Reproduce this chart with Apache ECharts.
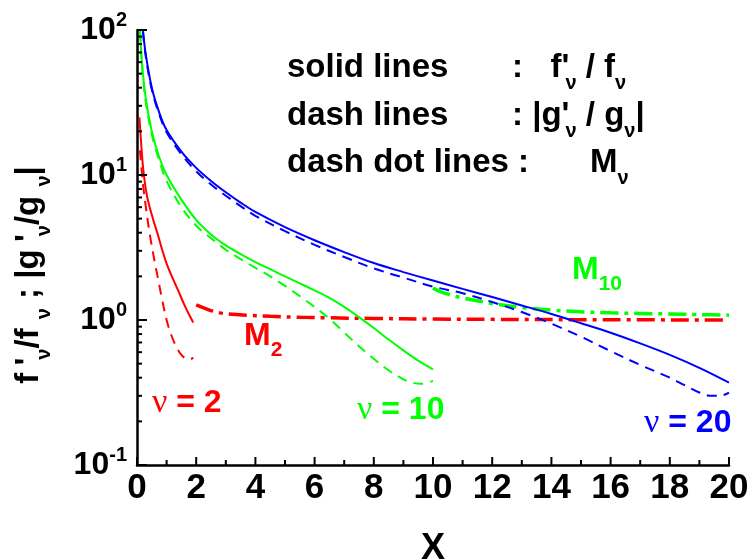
<!DOCTYPE html>
<html>
<head>
<meta charset="utf-8">
<script src="https://cdn.jsdelivr.net/npm/echarts@6/dist/echarts.min.js"></script>
<style>
  html, body { margin: 0; padding: 0; background: #fff; }
  #chart { width: 752px; height: 560px; }
</style>
</head>
<body>
<div id="chart"></div>
<script>
// tick values
const xMajorTicks = [0, 2, 4, 6, 8, 10, 12, 14, 16, 18, 20]
const xMinorTicks = [1, 3, 5, 7, 9, 11, 13, 15, 17, 19]
const yMajor = [0.1, 1, 10, 100]
const yExponents = ['-1', '0', '1', '2']
const yMinor = [0.2, 0.3, 0.4, 0.5, 0.6, 0.7, 0.8, 0.9, 2, 3, 4, 5, 6, 7, 8, 9, 20, 30, 40, 50, 60, 70, 80, 90]

// nu = 2
const nu2X = [0.08, 0.1, 0.15, 0.21, 0.3, 0.4, 0.55, 0.7, 0.85, 1.0, 1.2, 1.4, 1.6, 1.75, 1.9]
const nu2F = [25, 21.9, 15.5, 11, 7.9, 6.3, 4.9, 3.9, 3.05, 2.45, 1.95, 1.58, 1.27, 1.1, 0.96]
const nu2GX = [0.1, 0.15, 0.21, 0.3, 0.44, 0.6, 0.72, 0.85, 1.0, 1.15, 1.34, 1.5, 1.65, 1.8, 1.9]
const nu2G = [14.8, 11.2, 8.3, 6.0, 3.8, 2.51, 1.88, 1.38, 1.0, 0.794, 0.646, 0.575, 0.543, 0.537, 0.55]
const m2X = [2, 2.4, 2.8, 3.2, 3.7, 4.5, 5.5, 6.5, 8, 10, 12, 15, 20]
const m2 = [1.27, 1.18, 1.12, 1.095, 1.08, 1.06, 1.045, 1.035, 1.025, 1.015, 1.01, 1.005, 1.0]

// nu = 10
const nu10X = [0.1, 0.15, 0.2, 0.3, 0.5, 0.75, 1, 1.5, 2, 2.5, 3, 3.5, 4, 4.5, 5, 5.5, 6, 6.5, 7, 7.5, 8, 8.5, 9, 9.5, 10]
const nu10F = [100, 67, 50, 33.3, 20, 13.3, 10, 6.76, 4.9, 3.89, 3.27, 2.85, 2.51, 2.24, 2.0, 1.79, 1.6, 1.42, 1.23, 1.047, 0.88, 0.733, 0.617, 0.525, 0.457]
const nu10GX = [0.1, 0.15, 0.2, 0.3, 0.5, 0.75, 1, 1.5, 2, 2.5, 3, 3.5, 4, 4.5, 5, 5.5, 6, 6.5, 7, 7.5, 8, 8.5, 9, 9.3, 9.6, 10]
const nu10G = [98, 64, 48, 31.5, 19, 12.6, 9.1, 6.0, 4.47, 3.67, 3.05, 2.63, 2.29, 2.0, 1.72, 1.46, 1.23, 1.02, 0.82, 0.66, 0.54, 0.45, 0.39, 0.37, 0.363, 0.38]
const m10X = [10, 10.25, 10.5, 11, 12, 13, 14, 15, 16, 17, 18, 19, 20]
const m10 = [1.66, 1.57, 1.51, 1.42, 1.30, 1.22, 1.17, 1.14, 1.12, 1.11, 1.10, 1.09, 1.08]

// nu = 20
const nu20X = [0.2, 0.3, 0.5, 0.75, 1, 1.5, 2, 2.5, 3, 3.5, 4, 5, 6, 7, 8, 9, 10, 11, 12, 13, 14, 15, 16, 17, 18, 19, 20]
const nu20F = [100, 67, 40, 27, 20.4, 14.5, 11.2, 9.1, 7.6, 6.45, 5.56, 4.37, 3.55, 2.94, 2.47, 2.14, 1.87, 1.64, 1.44, 1.26, 1.10, 0.95, 0.817, 0.69, 0.575, 0.468, 0.37]
const nu20GX = [0.2, 0.3, 0.5, 0.75, 1, 1.5, 2, 2.5, 3, 3.5, 4, 5, 6, 7, 8, 9, 10, 11, 12, 13, 14, 15, 16, 17, 18, 18.5, 19, 19.4, 19.7, 20]
const nu20G = [97, 65, 38.8, 26.2, 19.7, 13.9, 10.6, 8.6, 7.2, 6.1, 5.23, 4.1, 3.3, 2.72, 2.27, 1.96, 1.70, 1.53, 1.33, 1.135, 0.944, 0.767, 0.61, 0.49, 0.40, 0.355, 0.316, 0.30, 0.30, 0.316]

const FONT = '"Liberation Sans", Arial, sans-serif'
const SERIF = '"Liberation Serif", "DejaVu Serif", serif'
const RED = '#ff0000'
const GREEN = '#00ff00'
const BLUE = '#0000ff'
const DASH = [10, 7]
const DASHDOT = [18, 6, 4, 6]

const pairs = (xs, ys) => xs.map((x, i) => [x, ys[i]])

function line(xs, ys, color, type, width) {
  return {
    type: 'line',
    data: pairs(xs, ys),
    showSymbol: false,
    smooth: 0.35,
    animation: false,
    lineStyle: { color: color, width: width, type: type },
  }
}

// inward ticks drawn through the axis scales
function ticks(data, dir, len) {
  return {
    type: 'custom',
    data: data,
    silent: true,
    animation: false,
    z: 5,
    renderItem: (params, api) => {
      const p = api.coord([api.value(0), api.value(1)])
      const q = dir === 'x' ? [p[0], p[1] - len] : [p[0] + len, p[1]]
      return {
        type: 'line',
        shape: { x1: p[0], y1: p[1], x2: q[0], y2: q[1] },
        style: { stroke: '#000', lineWidth: 2 },
      }
    },
  }
}

// text with subscripts: main tokens centered, sub tokens pushed down
function subRich(size, subSize) {
  return {
    m: { fontSize: size, fontWeight: 'bold', fontFamily: FONT, lineHeight: 50 },
    g: { fontSize: size + 2, fontFamily: SERIF, lineHeight: 50 },
    s: { fontSize: subSize, fontWeight: 'bold', fontFamily: FONT, lineHeight: 16, verticalAlign: 'bottom' },
    p: { fontSize: size, fontWeight: 'bold', fontFamily: FONT, lineHeight: 50, width: 4 },
  }
}

function label(x, y, text, color, size, subSize) {
  return {
    type: 'text',
    x: x,
    y: y,
    style: {
      text: text,
      rich: subRich(size, subSize),
      fill: color,
      align: 'left',
      verticalAlign: 'middle',
      fontFamily: FONT,
    },
  }
}

const chart = echarts.init(document.getElementById('chart'))

const option = {
  backgroundColor: '#fff',
  animation: false,
  grid: { left: 137, right: 23, top: 30, bottom: 95, outerBoundsMode: 'none' },
  xAxis: {
    type: 'value',
    min: 0,
    max: 20,
    interval: 2,
    name: 'X',
    nameLocation: 'middle',
    nameGap: 66,
    nameTextStyle: { fontSize: 36, fontWeight: 'bold', fontFamily: FONT, color: '#000' },
    axisLine: { show: true, lineStyle: { color: '#000', width: 2.5 } },
    axisTick: { show: false },
    splitLine: { show: false },
    axisLabel: { fontSize: 35, fontWeight: 'bold', fontFamily: FONT, color: '#000', margin: 6 },
  },
  yAxis: {
    type: 'log',
    logBase: 10,
    min: 0.1,
    max: 100,
    axisLine: { show: true, lineStyle: { color: '#000', width: 2.5 } },
    axisTick: { show: false },
    splitLine: { show: false },
    axisLabel: {
      show: true,
      customValues: yMajor,
      margin: 10,
      formatter: function (v) {
        const i = yMajor.findIndex(m => Math.abs(m - v) / m < 1e-6)
        return '{b|10}{e|' + yExponents[i] + '}'
      },
      rich: {
        b: { fontSize: 32, fontWeight: 'bold', fontFamily: FONT, color: '#000', lineHeight: 40 },
        e: { fontSize: 20, fontWeight: 'bold', fontFamily: FONT, color: '#000', lineHeight: 18, verticalAlign: 'top' },
      },
    },
  },
  series: [
    line(nu2X, nu2F, RED, 'solid', 2),
    line(nu2GX, nu2G, RED, DASH, 2),
    line(m2X, m2, RED, DASHDOT, 3.5),
    line(nu10X, nu10F, GREEN, 'solid', 2),
    line(nu10GX, nu10G, GREEN, DASH, 2),
    line(m10X, m10, GREEN, DASHDOT, 3.5),
    line(nu20X, nu20F, BLUE, 'solid', 2),
    line(nu20GX, nu20G, BLUE, DASH, 2),
    ticks(xMajorTicks.map(v => [v, 0.1]), 'x', 8),
    ticks(xMinorTicks.map(v => [v, 0.1]), 'x', 5),
    ticks(yMajor.map(v => [0, v]), 'y', 10),
    ticks(yMinor.map(v => [0, v]), 'y', 5),
  ],
  graphic: [
    label(287, 68, '{m|solid lines}', '#000', 33, 20),
    label(512, 68, '{m|:   f}{p|\'}{s|ν}{m| / f}{s|ν}', '#000', 33, 20),
    label(287, 116, '{m|dash lines}', '#000', 33, 20),
    label(512, 116, '{m|: |g}{p|\'}{s|ν}{m| / g}{s|ν}{m||}', '#000', 33, 20),
    label(287, 163, '{m|dash dot lines :}', '#000', 33, 20),
    label(590, 163, '{m|M}{s|ν}', '#000', 33, 20),
    label(152, 403, '{g|ν}{m| = 2}', RED, 32, 20),
    label(244, 336, '{m|M}{s|2}', RED, 32, 21),
    label(357, 410, '{g|ν}{m| = 10}', GREEN, 32, 20),
    label(572, 270, '{m|M}{s|10}', GREEN, 32, 21),
    label(644, 423, '{g|ν}{m| = 20}', BLUE, 32, 20),
    {
      type: 'text',
      x: 29,
      y: 275,
      rotation: Math.PI / 2,
      style: {
        text: '{m|f }{p|\'}{s|ν}{m|/f }{s|ν}{m| ; |g }{p|\'}{s|ν}{m|/g }{s|ν}{m||}',
        rich: subRich(33, 20),
        fill: '#000',
        align: 'center',
        verticalAlign: 'middle',
      },
    },
  ],
}

chart.setOption(option)
window.addEventListener('resize', () => chart.resize())
</script>
</body>
</html>
